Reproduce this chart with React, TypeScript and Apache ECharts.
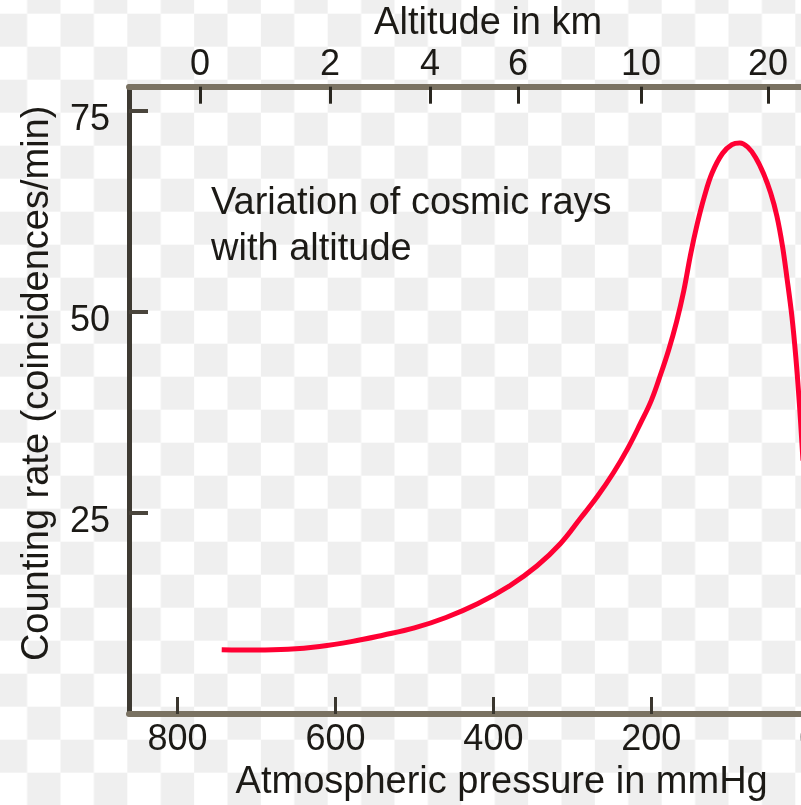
import { useEffect, useRef } from 'react';
import * as echarts from 'echarts';

// Bottom axis: atmospheric pressure (mmHg)
const pressureTicks = [800, 600, 400, 200, 0];
// Left axis: counting rate
const countTicks = [25, 50, 75];
// Top axis: altitude labels (km) and the pressure at which each tick sits
const altitudeKm = [0, 2, 4, 6, 10, 20];
const altitudePressure = [771.5, 607, 480.4, 368.9, 213.2, 52.3];

// Curve
const curvePressure = [744, 700, 660, 620, 580, 540, 500, 460, 420, 380, 345, 315, 290, 268, 248, 230, 214, 200, 188, 178, 168, 159, 150, 142, 133, 123, 110, 98, 88, 78, 68, 58, 49, 41, 34, 28, 22, 17, 12.5, 8];
const curveCount = [8.0, 7.95, 8.05, 8.4, 9.0, 9.8, 10.7, 12.0, 13.7, 15.9, 18.4, 21.2, 24.3, 27.1, 30.0, 33.0, 36.1, 39.0, 42.3, 45.3, 48.8, 52.6, 57.3, 60.9, 64.3, 67.3, 69.7, 70.8, 71.0, 70.5, 69.2, 67.2, 64.8, 61.9, 58.2, 54.0, 49.4, 44.3, 38.5, 31.5];

const FONT = '"Liberation Sans", Arial, Helvetica, sans-serif';
const INK = '#1c1a16';
// the printed labels sit a little below their ticks in the original figure
const LABEL_DROP = 0.85;

function Checker() {
  return (
    <svg
      width={801}
      height={805}
      style={{ position: 'absolute', left: 0, top: 0, display: 'block' }}
    >
      <defs>
        <pattern id="chk" patternUnits="userSpaceOnUse" x={-6.3} y={-19.3} width={66.8} height={66}>
          <rect x={0} y={0} width={66.8} height={66} fill="#ffffff" />
          <rect x={33.4} y={0} width={33.4} height={33} fill="#efefef" />
          <rect x={0} y={33} width={33.4} height={33} fill="#efefef" />
        </pattern>
      </defs>
      <rect x={0} y={0} width={801} height={805} fill="url(#chk)" />
    </svg>
  );
}

export default function App() {
  const ref = useRef<HTMLDivElement>(null);

  useEffect(() => {
    if (!ref.current) return;
    const chart = echarts.init(ref.current, null, { renderer: 'svg' });
    const pressMax = 861.4;
    chart.setOption({
      animation: false,
      backgroundColor: 'transparent',
      grid: { left: 129, right: -8.3, top: 86.7, bottom: 91, containLabel: false, outerBoundsMode: 'none' },
      xAxis: [
        {
          type: 'value',
          position: 'bottom',
          inverse: true,
          min: 0,
          max: pressMax,
          axisLine: { show: true, onZero: false, lineStyle: { color: '#7a7262', width: 6 } },
          axisTick: { show: true, inside: true, length: 17, customValues: pressureTicks, lineStyle: { color: '#3a362e', width: 3 } },
          axisLabel: { customValues: pressureTicks, margin: 5, fontSize: 36, color: INK, fontFamily: FONT },
          splitLine: { show: false },
          name: 'Atmospheric pressure in mmHg',
          nameLocation: 'middle',
          nameGap: 47,
          nameTextStyle: { fontSize: 38, color: INK, fontFamily: FONT, padding: [0, 0, 0, 65] },
        },
        {
          type: 'value',
          position: 'top',
          inverse: true,
          min: 0,
          max: pressMax,
          axisLine: { show: true, onZero: false, lineStyle: { color: '#7a7262', width: 6 } },
          axisTick: { show: true, inside: true, length: 17, customValues: altitudePressure, lineStyle: { color: '#2a2720', width: 3 } },
          axisLabel: {
            customValues: altitudePressure,
            margin: 6,
            fontSize: 36,
            color: INK,
            fontFamily: FONT,
            formatter: (v: number) => {
              const i = altitudePressure.findIndex((p) => Math.abs(p - v) < 0.5);
              return i >= 0 ? String(altitudeKm[i]) : '';
            },
          },
          splitLine: { show: false },
          name: 'Altitude in km',
          nameLocation: 'middle',
          nameGap: 38,
          nameTextStyle: { fontSize: 38, color: INK, fontFamily: FONT, padding: [0, 0, 0, 38] },
        },
      ],
      yAxis: {
        type: 'value',
        min: 0,
        max: 78,
        axisLine: { show: true, onZero: false, lineStyle: { color: '#3e3a32', width: 5 } },
        axisTick: { show: true, inside: true, length: 19, customValues: countTicks, lineStyle: { color: '#4a453c', width: 4 } },
        axisLabel: {
          customValues: countTicks.map((v) => v - LABEL_DROP),
          margin: 19,
          fontSize: 36,
          color: INK,
          fontFamily: FONT,
          formatter: (v: number) => String(Math.round(v + LABEL_DROP)),
        },
        splitLine: { show: false },
        name: 'Counting rate (coincidences/min)',
        nameLocation: 'middle',
        nameRotate: 90,
        nameGap: 75,
        nameTextStyle: { fontSize: 38, color: INK, fontFamily: FONT, padding: [0, 0, 0, 34] },
      },
      series: [
        {
          type: 'line',
          xAxisIndex: 0,
          yAxisIndex: 0,
          data: curvePressure.map((p, i) => [p, curveCount[i]]),
          showSymbol: false,
          symbol: 'none',
          smooth: 0.4,
          lineStyle: { color: '#ff0033', width: 5 },
        },
      ],
      graphic: [
        {
          type: 'text',
          left: 211,
          top: 178,
          style: {
            text: 'Variation of cosmic rays\nwith altitude',
            fontSize: 38,
            fontFamily: FONT,
            fill: INK,
            lineHeight: 46,
          },
        },
      ],
    });
    return () => chart.dispose();
  }, []);

  return (
    <div style={{ position: 'fixed', left: 0, top: 0, width: 801, height: 805, overflow: 'hidden' }}>
      <Checker />
      <div ref={ref} style={{ position: 'absolute', left: 0, top: 0, width: 801, height: 805 }} />
    </div>
  );
}
